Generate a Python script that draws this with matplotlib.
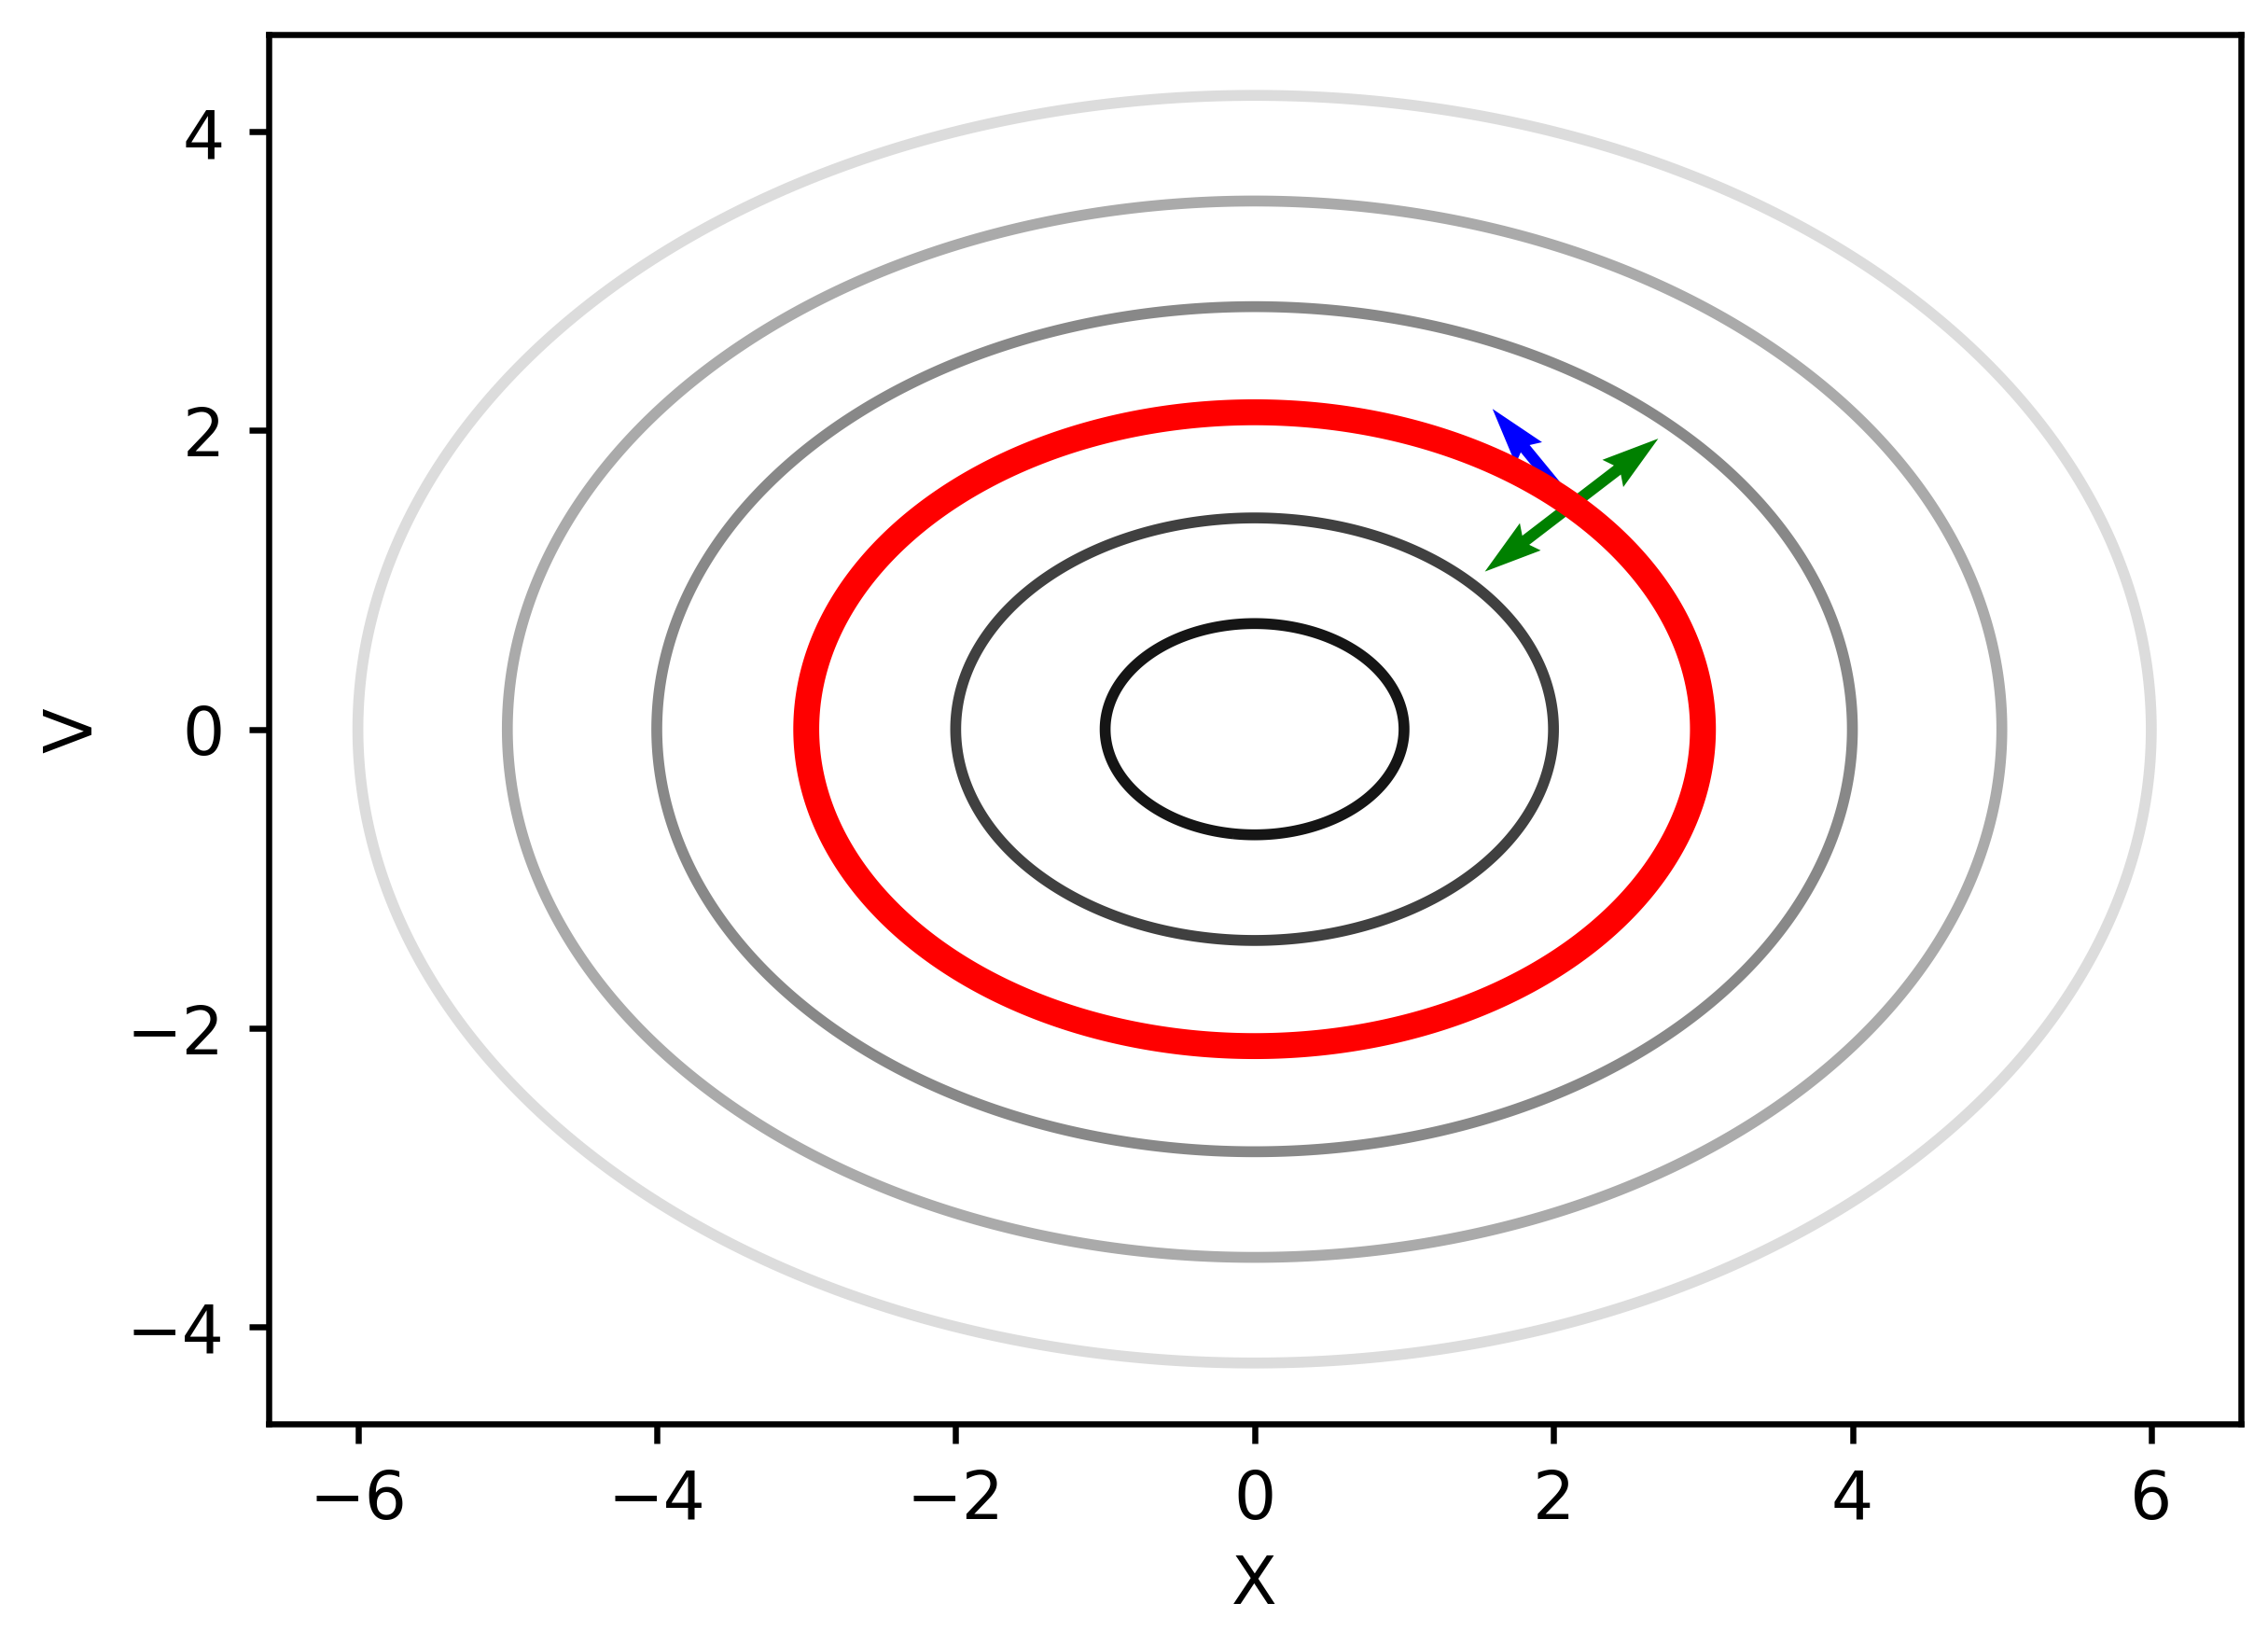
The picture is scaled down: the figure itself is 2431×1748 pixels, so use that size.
import numpy as np
import matplotlib
matplotlib.use("Agg")
import matplotlib.pyplot as plt

# contour levels of f(x, y) = x^2 + 2 y^2
levels = [1, 4, 16, 25, 36]
level_colors = ["#151515", "#404040", "#888888", "#aaaaaa", "#dcdcdc"]
red_level = 9

# point on the red curve and the two arrows attached to it
point = (2.121, 1.5)
blue_vec = (-0.529, 0.644)
green_vec = (0.58, 0.445)

DPI = 400
W, H = 2431, 1749

plt.rcParams["font.size"] = 12.8

fig = plt.figure(figsize=(W / DPI, H / DPI), dpi=DPI)
ax = fig.add_axes([287.5 / W, 1 - 1527 / H, (2402 - 287.5) / W, (1527 - 38) / H])

xs = np.linspace(-7, 7, 801)
ys = np.linspace(-5, 5, 601)
X, Y = np.meshgrid(xs, ys)
Z = X ** 2 + 2 * Y ** 2

ax.contour(X, Y, Z, levels=levels, colors=level_colors, linewidths=2.1, zorder=2)

# arrows (under the red curve)
ax.quiver([point[0]], [point[1]], [blue_vec[0]], [blue_vec[1]],
          color="blue", angles="xy", scale_units="xy", scale=1,
          width=0.0058, zorder=2.5)
ax.quiver([point[0], point[0]], [point[1], point[1]],
          [green_vec[0], -green_vec[0]], [green_vec[1], -green_vec[1]],
          color="green", angles="xy", scale_units="xy", scale=1,
          width=0.0058, zorder=2.5)

ax.contour(X, Y, Z, levels=[red_level], colors="red", linewidths=5, zorder=3)

ax.set_xlim(-6.6, 6.6)
ax.set_ylim(-4.65, 4.65)
ax.set_xticks([-6, -4, -2, 0, 2, 4, 6])
ax.set_yticks([-4, -2, 0, 2, 4])
ax.set_xlabel("X")
ax.set_ylabel("V")

for s in ax.spines.values():
    s.set_linewidth(1.17)
ax.tick_params(length=3.8, width=1.17, pad=4.6)

fig.savefig("out.png", dpi=DPI)
